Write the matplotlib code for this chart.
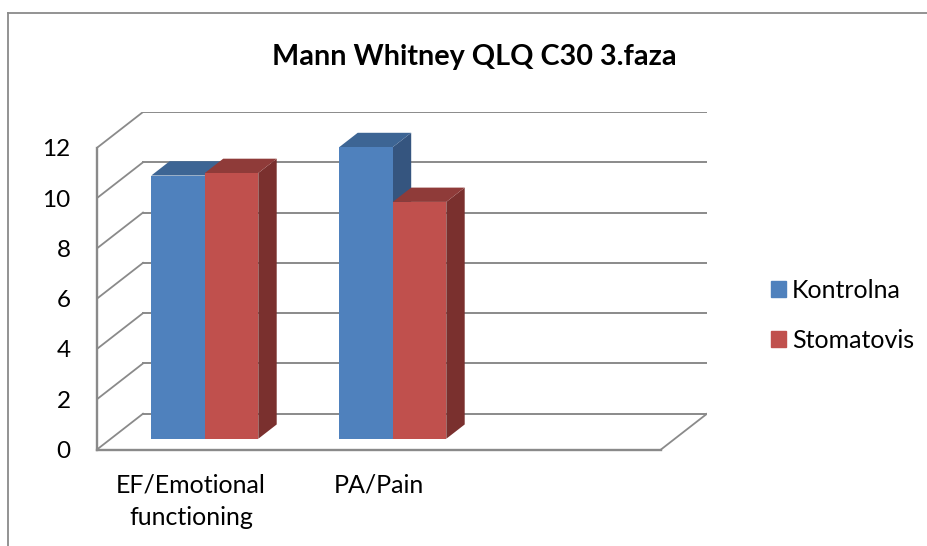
import matplotlib
matplotlib.use('Agg')
import matplotlib.pyplot as plt
from matplotlib.lines import Line2D
from matplotlib.patches import Patch

categories = ['EF/Emotional\nfunctioning', 'PA/Pain', '']
kontrolna = [10.47, 11.6]
stomatovis = [10.57, 9.42]
y_ticks = [0, 2, 4, 6, 8, 10, 12]

W, H = 928, 546
plt.rcParams['font.family'] = ['Lato', 'DejaVu Sans']

grey = '#8a8a8a'
blue = ['#4f81bd', '#3d6594', '#35557f']  # front, top, side
red = ['#c0504d', '#8f3b39', '#7a302e']

# oblique projection: how far the back wall is shifted, in data units
unit_x = 188.0
unit_y = 25.3
depth_x = 46 / unit_x
depth_y = 36 / unit_y
bar_w = 53.5 / unit_x
z_front = 0.3
z_back = 0.7


def proj(x, y, z):
    return x + z * depth_x, y + z * depth_y


def draw_bar(ax, x, val, cols):
    x1 = x + bar_w
    front = [proj(x, 0, z_front), proj(x1, 0, z_front), proj(x1, val, z_front), proj(x, val, z_front)]
    top = [proj(x, val, z_front), proj(x1, val, z_front), proj(x1, val, z_back), proj(x, val, z_back)]
    side = [proj(x1, 0, z_front), proj(x1, 0, z_back), proj(x1, val, z_back), proj(x1, val, z_front)]
    ax.fill(*zip(*side), color=cols[2], lw=0, zorder=3)
    ax.fill(*zip(*top), color=cols[1], lw=0, zorder=3)
    ax.fill(*zip(*front), color=cols[0], lw=0, zorder=3)


fig = plt.figure(figsize=(W / 100, H / 100), dpi=100)
left, right, top_px, bottom_px = 97, 707, 112, 449.5
ax = fig.add_axes([left / W, 1 - bottom_px / H, (right - left) / W, (bottom_px - top_px) / H])
ax.set_xlim(0, 3 + depth_x)
ax.set_ylim(0, 12 + depth_y)
for s in ax.spines.values():
    s.set_visible(False)

# walls
for v in y_ticks:
    ax.plot([depth_x, 3 + depth_x], [v + depth_y, v + depth_y], color=grey, lw=1.4, zorder=1)
    ax.plot([0, depth_x], [v, v + depth_y], color=grey, lw=1.3, zorder=1)
ax.plot([3, 3 + depth_x], [0, depth_y], color=grey, lw=1.3, zorder=1)
ax.plot([0, 0], [0, 12], color=grey, lw=1.7, zorder=2, clip_on=False)
ax.plot([0, 3], [0, 0], color=grey, lw=1.7, zorder=2, clip_on=False)

# blue first, the red top sits in front of the blue side
for i in range(len(kontrolna)):
    x0 = i + 0.5 - bar_w
    draw_bar(ax, x0, kontrolna[i], blue)
    draw_bar(ax, x0 + bar_w, stomatovis[i], red)

ax.set_yticks(y_ticks)
ax.tick_params(axis='y', length=0, pad=19, labelsize=17.5)
ax.set_xticks([i + 0.5 for i in range(len(categories))])
ax.set_xticklabels(categories, fontsize=18, linespacing=1.5)
ax.tick_params(axis='x', length=0, pad=17)

fig.text(474 / W, 1 - 57 / H, 'Mann Whitney QLQ C30 3.faza', fontsize=20.7, fontweight='bold',
         ha='center', va='center')

handles = [Patch(color=blue[0], label='Kontrolna'), Patch(color=red[0], label='Stomatovis')]
fig.legend(handles=handles, loc='upper left', bbox_to_anchor=(771 / W, 1 - 279 / H), frameon=False,
           fontsize=18, handlelength=0.6, handleheight=0.6, handletextpad=0.25,
           labelspacing=1.08, borderpad=0, borderaxespad=0)

# chart frame, only left and top show in the crop
fig.add_artist(Line2D([8 / W, 8 / W], [0, 1 - 13 / H], color=grey, lw=1.3))
fig.add_artist(Line2D([8 / W, 1], [1 - 13 / H, 1 - 13 / H], color=grey, lw=1.3))

fig.savefig('out.png', dpi=100)
